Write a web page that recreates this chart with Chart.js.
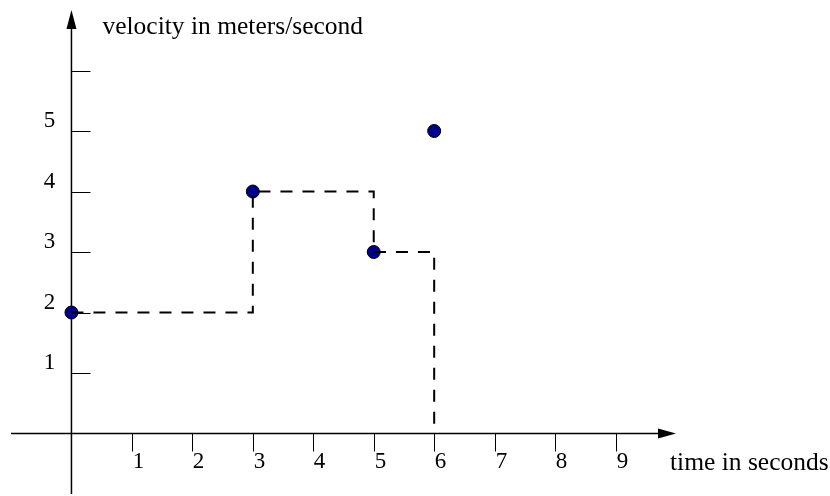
<!DOCTYPE html>
<html>
<head>
<meta charset="utf-8">
<script src="https://cdn.jsdelivr.net/npm/chart.js"></script>
<style>
  html, body { margin: 0; padding: 0; background: #fff; overflow: hidden; }
  canvas { display: block; }
</style>
</head>
<body>
<canvas id="chart" width="830" height="496"></canvas>
<script>
// measured points (time in s, velocity in m/s)
const pointT = [0, 3, 5, 6]
const pointV = [2, 4, 3, 5]

// corners of the dashed step line (drawn with stepped: true)
const stepT = [0, 3, 5, 6]
const stepV = [2, 4, 3, 0]

const xTicks = [1, 2, 3, 4, 5, 6, 7, 8, 9]
const xTickLabels = ['1', '2', '3', '4', '5', '6', '7', '8', '9']
const yTicks = [1, 2, 3, 4, 5, 6]
const yTickLabels = ['1', '2', '3', '4', '5', '']

const xTitle = 'time in seconds'
const yTitle = 'velocity in meters/second'

const TICK_FONT = '23px "Liberation Serif", "DejaVu Serif", serif'
const TITLE_FONT = '25.5px "Liberation Serif", "DejaVu Serif", serif'

// draws the two axes through the origin, arrows, ticks and labels
const axesPlugin = {
    id: 'axesThroughOrigin',
    beforeDatasetsDraw(chart) {
        const { ctx, scales: { x, y } } = chart
        const x0 = x.getPixelForValue(0)
        const y0 = y.getPixelForValue(0)
        const left = x.getPixelForValue(x.min)
        const right = x.getPixelForValue(x.max)
        const top = y.getPixelForValue(y.max)
        const bottom = y.getPixelForValue(y.min)

        ctx.save()
        ctx.strokeStyle = '#000'
        ctx.fillStyle = '#000'
        ctx.lineWidth = 1.5

        // x axis
        ctx.beginPath()
        ctx.moveTo(left, y0)
        ctx.lineTo(right - 16, y0)
        ctx.stroke()
        ctx.beginPath()
        ctx.moveTo(right, y0)
        ctx.lineTo(right - 18, y0 - 5)
        ctx.lineTo(right - 18, y0 + 5)
        ctx.closePath()
        ctx.fill()

        // y axis
        ctx.beginPath()
        ctx.moveTo(x0, bottom)
        ctx.lineTo(x0, top + 16)
        ctx.stroke()
        ctx.beginPath()
        ctx.moveTo(x0, top)
        ctx.lineTo(x0 - 5, top + 19)
        ctx.lineTo(x0 + 5, top + 19)
        ctx.closePath()
        ctx.fill()

        // ticks
        ctx.lineWidth = 1
        ctx.font = TICK_FONT
        ctx.textBaseline = 'middle'
        ctx.textAlign = 'center'
        xTicks.forEach((t, i) => {
            const px = Math.round(x.getPixelForValue(t)) + 0.5
            ctx.beginPath()
            ctx.moveTo(px, y0)
            ctx.lineTo(px, y0 + 18)
            ctx.stroke()
            ctx.fillText(xTickLabels[i], px + 6, y0 + 28)
        })
        yTicks.forEach((t, i) => {
            const py = Math.round(y.getPixelForValue(t)) + 0.5
            ctx.beginPath()
            ctx.moveTo(x0, py)
            ctx.lineTo(x0 + 19, py)
            ctx.stroke()
            ctx.fillText(yTickLabels[i], x0 - 22, py - 10.5)
        })

        // axis titles
        ctx.font = TITLE_FONT
        ctx.textAlign = 'left'
        ctx.textBaseline = 'alphabetic'
        ctx.fillText(yTitle, x0 + 31, top + 24)
        ctx.fillText(xTitle, right - 6, y0 + 36)
        ctx.restore()
    }
}

new Chart(document.getElementById('chart'), {
    type: 'scatter',
    data: {
        datasets: [
            {
                // dashed step line, first so it sits on top of the dots
                type: 'line',
                data: stepT.map((t, i) => ({ x: t, y: stepV[i] })),
                stepped: true,
                borderColor: '#000',
                borderWidth: 2,
                borderDash: [12, 10],
                pointRadius: 0,
                fill: false
            },
            {
                data: pointT.map((t, i) => ({ x: t, y: pointV[i] })),
                pointRadius: 6.5,
                pointBackgroundColor: '#00008b',
                pointBorderColor: '#000',
                pointBorderWidth: 1
            }
        ]
    },
    options: {
        responsive: false,
        animation: false,
        layout: {
            autoPadding: false,
            padding: { left: 11, right: 154, top: 10, bottom: 2 }
        },
        plugins: { legend: { display: false }, tooltip: { enabled: false } },
        scales: {
            x: { type: 'linear', min: -1, max: 10, display: false },
            y: { type: 'linear', min: -1, max: 7, display: false }
        }
    },
    plugins: [axesPlugin]
})
</script>
</body>
</html>
